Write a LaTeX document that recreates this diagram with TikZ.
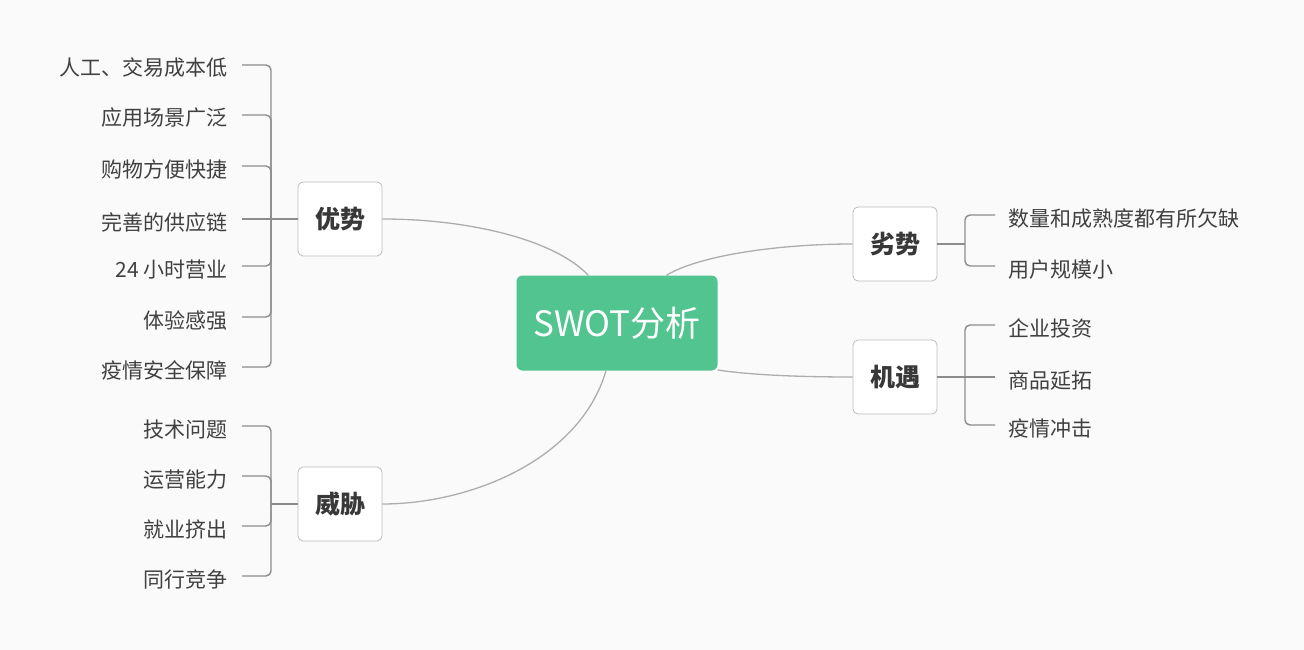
\documentclass[tikz,border=0pt]{standalone}
\usepackage{fontspec}
\newfontfamily\cjk{Noto Sans CJK SC}
\usetikzlibrary{positioning}
\definecolor{swotgreen}{HTML}{52C48F}
\definecolor{boxline}{HTML}{BDBDBD}
\definecolor{curveline}{HTML}{ADADAD}
\definecolor{braceline}{HTML}{8C8C8C}
\definecolor{leaftext}{HTML}{404040}
\tikzstyle{root}=[fill=swotgreen, rounded corners=6pt, minimum width=201pt, minimum height=95pt, text=white, font=\cjk\fontsize{35}{40}\selectfont]
\tikzstyle{branch}=[draw=boxline, fill=white, line width=0.8pt, rounded corners=5pt, minimum width=84pt, minimum height=74pt, text=black!78, font=\cjk\bfseries\fontsize{25}{30}\selectfont]
\tikzstyle{leafL}=[anchor=east, inner xsep=14pt, inner ysep=0pt, text height=22pt, text depth=0pt, text=leaftext, font=\cjk\fontsize{21}{25}\selectfont]
\tikzstyle{leafR}=[anchor=west, inner xsep=13pt, inner ysep=0pt, text height=22pt, text depth=0pt, text=leaftext, font=\cjk\fontsize{21}{25}\selectfont]
\tikzstyle{curve}=[draw=curveline, line width=1.3pt]
\tikzstyle{brace}=[draw=braceline, line width=1.4pt, rounded corners=5pt]

\begin{document}
\begin{tikzpicture}[x=1pt, y=-1pt]
	\useasboundingbox[fill=black!2] (0,0) rectangle (1304,650);
	% centre and the four branches
	\node		[root]		(swot) at (617,323)	{SWOT分析};
	\node		[branch]	(ys) at (340,219)	{优势};
	\node		[branch]	(wx) at (340,504)	{威胁};
	\node		[branch]	(ls) at (895,244)	{劣势};
	\node		[branch]	(jy) at (895,377)	{机遇};
	\draw[curve] (swot.121) .. controls (555,240) and (470,219) .. (ys.east);
	\draw[curve] (swot.257) .. controls (580,460) and (470,504) .. (wx.east);
	\draw[curve] (swot.44) .. controls (700,255) and (780,244) .. (ls.west);
	\draw[curve] (swot.-25) .. controls (750,375) and (800,377) .. (jy.west);

	% leaves of 优势
	\coordinate (ysj) at (271,219);
	\node		[leafL]		(ys1) at (242,65)	{人工、交易成本低};
	\node		[leafL]		(ys2) at (242,115)	{应用场景广泛};
	\node		[leafL]		(ys3) at (242,166)	{购物方便快捷};
	\node		[leafL]		(ys4) at (242,219)	{完善的供应链};
	\node		[leafL]		(ys5) at (242,266)	{24 小时营业};
	\node		[leafL]		(ys6) at (242,317)	{体验感强};
	\node		[leafL]		(ys7) at (242,367)	{疫情安全保障};
	\draw[brace] (ys.west) -- (ysj);
	\draw[brace] (ysj) |- (ys1.east);
	\draw[brace] (ysj) |- (ys2.east);
	\draw[brace] (ysj) |- (ys3.east);
	\draw[brace] (ysj) -- (ys4.east);
	\draw[brace] (ysj) |- (ys5.east);
	\draw[brace] (ysj) |- (ys6.east);
	\draw[brace] (ysj) |- (ys7.east);

	% leaves of 威胁
	\coordinate (wxj) at (271,504);
	\node		[leafL]		(wx1) at (242,426)	{技术问题};
	\node		[leafL]		(wx2) at (242,476)	{运营能力};
	\node		[leafL]		(wx3) at (242,526)	{就业挤出};
	\node		[leafL]		(wx4) at (242,576)	{同行竞争};
	\draw[brace] (wx.west) -- (wxj);
	\draw[brace] (wxj) |- (wx1.east);
	\draw[brace] (wxj) |- (wx2.east);
	\draw[brace] (wxj) |- (wx3.east);
	\draw[brace] (wxj) |- (wx4.east);

	% leaves of 劣势
	\coordinate (lsj) at (965,244);
	\node		[leafR]		(ls1) at (995,215)	{数量和成熟度都有所欠缺};
	\node		[leafR]		(ls2) at (995,266)	{用户规模小};
	\draw[brace] (ls.east) -- (lsj);
	\draw[brace] (lsj) |- (ls1.west);
	\draw[brace] (lsj) |- (ls2.west);

	% leaves of 机遇
	\coordinate (jyj) at (965,377);
	\node		[leafR]		(jy1) at (995,325)	{企业投资};
	\node		[leafR]		(jy2) at (995,377)	{商品延拓};
	\node		[leafR]		(jy3) at (995,425)	{疫情冲击};
	\draw[brace] (jy.east) -- (jyj);
	\draw[brace] (jyj) |- (jy1.west);
	\draw[brace] (jyj) -- (jy2.west);
	\draw[brace] (jyj) |- (jy3.west);
\end{tikzpicture}
\end{document}
